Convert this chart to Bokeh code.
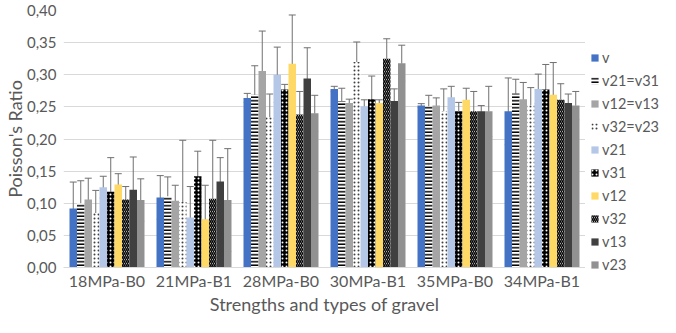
from bokeh.plotting import figure
from bokeh.layouts import row
from bokeh.models import (ColumnDataSource, Whisker, TeeHead, Legend, LegendItem,
                          CustomJSTickFormatter, SingleIntervalTicker, CanvasTexture)
from bokeh.core.properties import value
from bokeh.transform import dodge
from bokeh.embed import file_html
from bokeh.resources import INLINE

categories = ["18MPa-B0", "21MPa-B1", "28MPa-B0", "30MPa-B1", "35MPa-B0", "34MPa-B1"]
series = ["v", "v21=v31", "v12=v13", "v32=v23", "v21", "v31", "v12", "v32", "v13", "v23"]

v_val = [0.092, 0.109, 0.264, 0.278, 0.252, 0.243]
v_err = [0.041, 0.034, 0.007, 0.004, 0.003, 0.052]
v21_eq_v31_val = [0.100, 0.111, 0.269, 0.259, 0.251, 0.271]
v21_eq_v31_err = [0.035, 0.030, 0.045, 0.020, 0.017, 0.022]
v12_eq_v13_val = [0.106, 0.104, 0.306, 0.256, 0.252, 0.262]
v12_eq_v13_err = [0.033, 0.024, 0.062, 0.006, 0.012, 0.026]
v32_eq_v23_val = [0.085, 0.102, 0.234, 0.320, 0.243, 0.253]
v32_eq_v23_err = [0.035, 0.096, 0.036, 0.031, 0.035, 0.027]
v21_val = [0.125, 0.078, 0.300, 0.251, 0.265, 0.278]
v21_err = [0.017, 0.048, 0.043, 0.010, 0.017, 0.023]
v31_val = [0.118, 0.142, 0.277, 0.262, 0.243, 0.277]
v31_err = [0.053, 0.039, 0.008, 0.036, 0.014, 0.039]
v12_val = [0.129, 0.075, 0.317, 0.256, 0.261, 0.269]
v12_err = [0.017, 0.053, 0.076, 0.005, 0.018, 0.050]
v32_val = [0.106, 0.107, 0.238, 0.325, 0.243, 0.261]
v32_err = [0.020, 0.091, 0.036, 0.031, 0.031, 0.025]
v13_val = [0.121, 0.134, 0.294, 0.259, 0.243, 0.256]
v13_err = [0.051, 0.037, 0.048, 0.019, 0.009, 0.014]
v23_val = [0.105, 0.105, 0.240, 0.318, 0.243, 0.252]
v23_err = [0.033, 0.080, 0.028, 0.028, 0.039, 0.022]

values = [v_val, v21_eq_v31_val, v12_eq_v13_val, v32_eq_v23_val, v21_val,
          v31_val, v12_val, v32_val, v13_val, v23_val]
errors = [v_err, v21_eq_v31_err, v12_eq_v13_err, v32_eq_v23_err, v21_err,
          v31_err, v12_err, v32_err, v13_err, v23_err]

checker = CanvasTexture(code="""
const s = scale / 2;
ctx.fillStyle = 'black';
ctx.fillRect(0, 0, s, s);
ctx.fillRect(s, s, s, s);
""", repetition="repeat")

styles = [
    dict(fill_color="#4472C4"),
    dict(fill_color="white", hatch_pattern="-", hatch_color="black", hatch_scale=3.5, hatch_weight=1.5),
    dict(fill_color="#A5A5A5"),
    dict(fill_color="white", hatch_pattern=".", hatch_color="#404040", hatch_scale=4, hatch_weight=1),
    dict(fill_color="#B4C7E7"),
    dict(fill_color="black", hatch_pattern=".", hatch_color="white", hatch_scale=4, hatch_weight=1),
    dict(fill_color="#FFD966"),
    dict(fill_color="white", hatch_pattern="\\", hatch_color="black", hatch_scale=4, hatch_weight=1.5),
    dict(fill_color="#404040"),
    dict(fill_color="white", hatch_pattern=value("checker"), hatch_extra={"checker": checker},
         hatch_color="black", hatch_scale=6, hatch_weight=1),
]

FONT = "Lato"
TXT = "#595959"

p = figure(x_range=categories, y_range=(0, 0.40), width=585, height=317,
           output_backend="svg", toolbar_location=None, frame_align=False,
           min_border_left=63, min_border_right=0, min_border_top=10, min_border_bottom=47)

# legend panel: same sources, but a y-range that keeps the bars out of view
lg = figure(x_range=categories, y_range=(1, 2), width=75, height=317,
            output_backend="svg", toolbar_location=None, frame_align=False,
            min_border_left=5, min_border_right=0, min_border_top=48, min_border_bottom=0)
lg.axis.visible = False
lg.grid.visible = False
lg.outline_line_color = None

bar_w = 0.0862
items = []
for i, (name, vals, errs) in enumerate(zip(series, values, errors)):
    src = ColumnDataSource(dict(x=categories, top=vals,
                                upper=[a + b for a, b in zip(vals, errs)],
                                lower=[a - b for a, b in zip(vals, errs)]))
    off = (i - 4.5) * bar_w
    p.vbar(x=dodge("x", off, range=p.x_range), top="top", width=bar_w, source=src,
           line_color=None, **styles[i])
    w = Whisker(base=dodge("x", off, range=p.x_range), upper="upper", lower="lower",
                source=src, line_color="#707070", line_width=1,
                upper_head=TeeHead(size=7, line_color="#707070", line_width=1),
                lower_head=TeeHead(size=7, line_color="#707070", line_width=1))
    p.add_layout(w)
    r = lg.vbar(x="x", top="top", width=bar_w, source=src, line_color=None, **styles[i])
    items.append(LegendItem(label=name, renderers=[r]))

p.outline_line_color = None
p.xgrid.grid_line_color = None
p.ygrid.grid_line_color = "#D9D9D9"
p.ygrid.grid_line_width = 1

p.yaxis.ticker = SingleIntervalTicker(interval=0.05, num_minor_ticks=0)
p.yaxis.formatter = CustomJSTickFormatter(code="return tick.toFixed(2).replace('.', ',');")
p.yaxis.axis_line_color = None
p.yaxis.major_tick_line_color = None
p.yaxis.minor_tick_line_color = None
p.yaxis.major_tick_out = 0
p.yaxis.major_tick_in = 0
p.yaxis.major_label_standoff = 7
p.yaxis.axis_label = "Poisson's Ratio"
p.yaxis.axis_label_standoff = -2
p.yaxis.major_label_text_font_size = "15px"

p.xaxis.axis_line_color = "#D9D9D9"
p.xaxis.major_tick_line_color = None
p.xaxis.minor_tick_line_color = None
p.xaxis.major_tick_out = 0
p.xaxis.major_tick_in = 0
p.xaxis.major_label_standoff = 3
p.xaxis.axis_label = "Strengths and types of gravel"
p.xaxis.axis_label_standoff = 0
p.xaxis.major_label_text_font_size = "16px"

for ax in (p.xaxis, p.yaxis):
    ax.major_label_text_font = FONT
    ax.major_label_text_color = TXT
    ax.axis_label_text_font = FONT
    ax.axis_label_text_font_size = "18px"
    ax.axis_label_text_font_style = "normal"
    ax.axis_label_text_color = TXT

legend = Legend(items=items, location="top_left", orientation="vertical",
                glyph_width=9, glyph_height=9, label_height=18, spacing=5, padding=0, margin=0,
                label_standoff=3, label_text_font=FONT, label_text_font_size="14.5px",
                label_text_color=TXT, border_line_alpha=0, background_fill_alpha=0)
lg.add_layout(legend, "center")

layout = row(p, lg)
open("out.html", "w").write(file_html(layout, INLINE))
